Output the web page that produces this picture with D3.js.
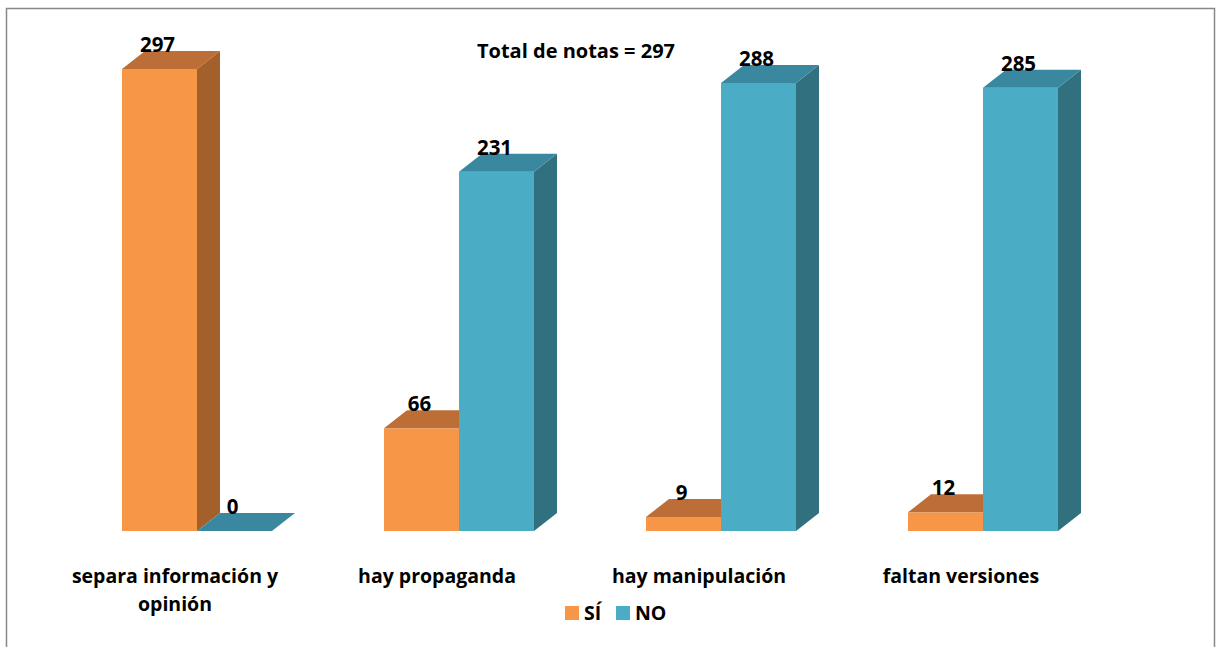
<!DOCTYPE html>
<html>
<head>
<meta charset="utf-8">
<script src="https://cdn.jsdelivr.net/npm/d3@7"></script>
<style>
  body { margin: 0; background: #fff; }
  text { font-family: "Open Sans", Lato, sans-serif; font-weight: bold; fill: #000; }
</style>
</head>
<body>
<div id="graph"></div>
<script>
var categories = ["separa información y opinión", "hay propaganda", "hay manipulación", "faltan versiones"];
var series = ["SÍ", "NO"];
var siValues = [297, 66, 9, 12];
var noValues = [0, 231, 288, 285];
var title = "Total de notas = 297";

var W = 1216, H = 647;
var depthX = 23, depthY = -18;

var colors = {
    "SÍ": {front: "#F79646", top: "#BC6E36", side: "#A3602B"},
    "NO": {front: "#4BACC6", top: "#3A88A0", side: "#30707F"}
};

var svg = d3.select('#graph').append("svg")
    .attr("width", W)
    .attr("height", H);

// frame
svg.append("rect")
    .attr("x", 6.5).attr("y", 8.5)
    .attr("width", 1208).attr("height", 660)
    .attr("fill", "none")
    .attr("stroke", "#888")
    .attr("stroke-width", 1.5);

var x0 = d3.scaleBand()
    .domain(categories)
    .range([66, 1114])
    .paddingInner(0.4275)
    .paddingOuter(0.21375);

var x1 = d3.scaleBand()
    .domain(series)
    .range([0, x0.bandwidth()]);

var y = d3.scaleLinear()
    .domain([0, 297])
    .range([531, 69]);

var data = [];
categories.forEach(function (c, i) {
    data.push({cat: c, key: "SÍ", value: siValues[i]});
    data.push({cat: c, key: "NO", value: noValues[i]});
});

var bars = svg.append("g").selectAll("g.bar")
    .data(data)
    .enter().append("g")
    .attr("class", "bar");

function pts(a) {
    return a.map(function (p) { return p.join(","); }).join(" ");
}

bars.each(function (d) {
    var g = d3.select(this);
    var xl = x0(d.cat) + x1(d.key), xr = xl + x1.bandwidth();
    var yt = y(d.value), yb = y(0);
    var c = colors[d.key];
    if (d.value > 0) {
        g.append("rect")
            .attr("x", xl).attr("y", yt)
            .attr("width", xr - xl).attr("height", yb - yt)
            .attr("fill", c.front);
        g.append("polygon")
            .attr("points", pts([[xr, yt], [xr + depthX, yt + depthY], [xr + depthX, yb + depthY], [xr, yb]]))
            .attr("fill", c.side);
    }
    g.append("polygon")
        .attr("points", pts([[xl, yt], [xl + depthX, yt + depthY], [xr + depthX, yt + depthY], [xr, yt]]))
        .attr("fill", c.top);
});

// value labels
svg.append("g").selectAll("text")
    .data(data)
    .enter().append("text")
    .attr("x", function (d) { return x0(d.cat) + x1(d.key) + x1.bandwidth() / 2 - 2; })
    .attr("y", function (d) { return y(d.value) + depthY + 1; })
    .attr("text-anchor", "middle")
    .style("font-size", "20.5px")
    .text(function (d) { return d.value; });

// title
svg.append("text")
    .attr("x", 576).attr("y", 58)
    .attr("text-anchor", "middle")
    .style("font-size", "20px")
    .text(title);

// category labels (wrapped)
var catLines = {"separa información y opinión": ["separa información y", "opinión"]};
var catG = svg.append("g").selectAll("text")
    .data(categories)
    .enter().append("text")
    .attr("x", function (d) { return x0(d) + x0.bandwidth() / 2 - 22; })
    .attr("y", 583)
    .attr("text-anchor", "middle")
    .style("font-size", "19.5px");
catG.each(function (d) {
    var lines = catLines[d] || [d];
    var t = d3.select(this);
    lines.forEach(function (l, i) {
        t.append("tspan")
            .attr("x", t.attr("x"))
            .attr("dy", i === 0 ? 0 : 28)
            .text(l);
    });
});

// legend
var legend = svg.append("g").attr("transform", "translate(565,606)");
var lx = [0, 51];
series.forEach(function (s, i) {
    legend.append("rect")
        .attr("x", lx[i]).attr("y", 0)
        .attr("width", 14).attr("height", 14)
        .attr("fill", colors[s].front);
    legend.append("text")
        .attr("x", lx[i] + 19).attr("y", 14)
        .style("font-size", "19.5px")
        .text(s);
});
</script>
</body>
</html>
